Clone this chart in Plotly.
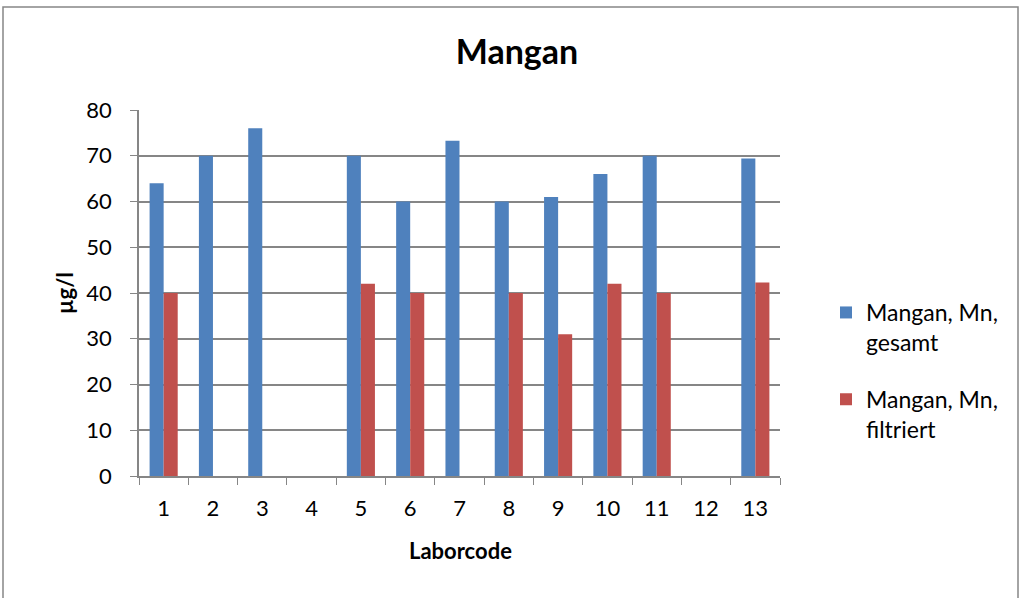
import plotly.graph_objects as go

# Data
labor = ['1', '2', '3', '4', '5', '6', '7', '8', '9', '10', '11', '12', '13']
gesamt = [64, 70, 76, None, 70, 60, 73.3, 60, 61, 66, 70, None, 69.4]
filtriert = [40, None, None, None, 42, 40, None, 40, 31, 42, 40, None, 42.3]

FONT = "Lato"
W, H = 1021, 598
L, R, T, B = 139, 241, 110, 122
pw, ph = W - L - R, H - T - B


def px_x(x):
    return (x - L) / pw


def px_y(y):
    return (H - B - y) / ph


fig = go.Figure()
fig.add_trace(go.Bar(
    x=labor, y=gesamt, name='Mangan, Mn,<br>gesamt', legendgroup='a',
    marker=dict(color='#4f81bd', line=dict(width=0))
))
fig.add_trace(go.Bar(
    x=labor, y=filtriert, name='Mangan, Mn,<br>filtriert', legendgroup='b',
    marker=dict(color='#c0504d', line=dict(width=0))
))

# outer chart border
fig.add_shape(type='rect', xref='paper', yref='paper',
              x0=px_x(3), x1=px_x(1018), y0=px_y(700), y1=px_y(7),
              line=dict(color='#868686', width=1.5), layer='below')

# axis titles
fig.add_annotation(text='<b>µg/l</b>', xref='paper', yref='paper',
                   x=px_x(64), y=px_y(293), xanchor='center', yanchor='middle',
                   textangle=-90, showarrow=False, font=dict(size=22))
fig.add_annotation(text='<b>Laborcode</b>', xref='paper', yref='paper',
                   x=px_x(460), y=px_y(550), xanchor='center', yanchor='middle',
                   showarrow=False, font=dict(size=22))

fig.update_layout(
    width=W, height=H,
    margin=dict(l=L, r=R, t=T, b=B),
    paper_bgcolor='white', plot_bgcolor='white',
    font=dict(family=FONT, size=22, color='black'),
    title=dict(text='<b>Mangan</b>', x=px_x(517), xref='paper', xanchor='center',
               y=1 - 52 / H, yanchor='middle', font=dict(size=34)),
    barmode='group', bargap=0.43, bargroupgap=0,
    showlegend=True,
    legend=dict(x=px_x(826), y=px_y(291), xanchor='left', yanchor='top',
                font=dict(size=23), tracegroupgap=24, itemwidth=30, valign='top'),
    xaxis=dict(showline=True, linecolor='#868686', linewidth=1.5,
               ticks='outside', tickson='boundaries', ticklen=7, tickcolor='#868686',
               ticklabelstandoff=12, showgrid=False, automargin=False),
    yaxis=dict(range=[0, 80], dtick=10,
               showline=True, linecolor='#868686', linewidth=1.5,
               ticks='outside', ticklen=7, tickcolor='#868686', ticklabelstandoff=14,
               gridcolor='#868686', gridwidth=1.5, zeroline=False, automargin=False),
)

fig.write_html("out.html", config={'displayModeBar': False},
               post_script="document.body.style.margin='0';document.body.style.overflow='hidden';")
